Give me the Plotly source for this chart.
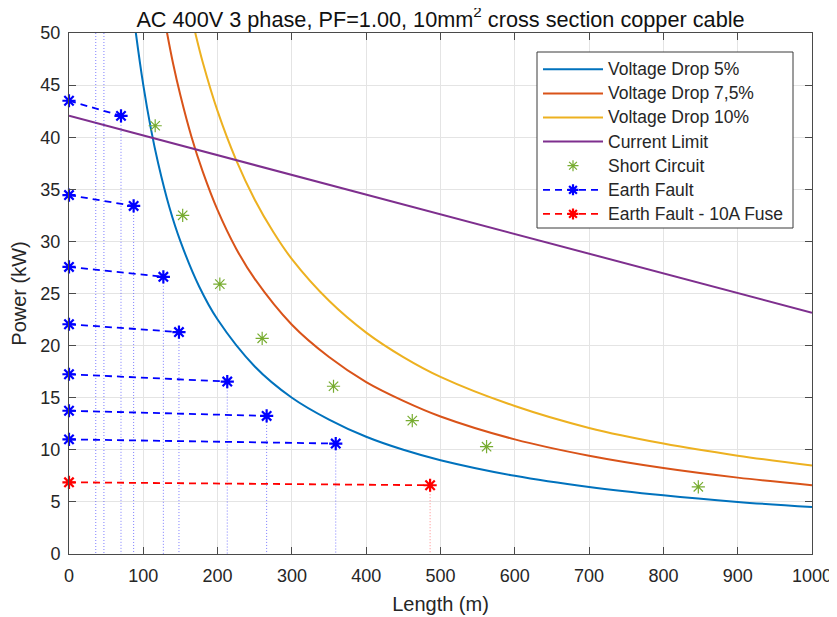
import plotly.graph_objects as go

# ---------------- data ----------------
L_vd5 = [85, 90, 100, 110, 120, 135, 150, 175, 200, 250, 300, 350, 400, 450, 500, 600, 700, 800, 900, 1000]
P_vd5 = [52.9, 50.0, 45.0, 40.9, 37.5, 33.3, 30.0, 25.7, 22.5, 18.0, 15.0, 12.9, 11.25, 10.0, 9.0, 7.5, 6.43, 5.63, 5.0, 4.5]

L_vd75 = [125, 132, 140, 150, 165, 180, 200, 225, 250, 300, 350, 400, 450, 500, 600, 700, 800, 900, 1000]
P_vd75 = [52.8, 50.0, 47.1, 44.0, 40.0, 36.7, 33.0, 29.3, 26.4, 22.0, 18.9, 16.5, 14.7, 13.2, 11.0, 9.43, 8.25, 7.33, 6.6]

L_vd10 = [160, 170, 180, 200, 225, 250, 275, 300, 350, 400, 450, 500, 600, 700, 800, 900, 1000]
P_vd10 = [53.1, 50.0, 47.2, 42.5, 37.8, 34.0, 30.9, 28.3, 24.3, 21.25, 18.9, 17.0, 14.2, 12.1, 10.6, 9.44, 8.5]

L_cl = [0, 1000]
P_cl = [42.05, 23.15]

L_sc = [116, 153, 203, 260, 356, 462, 562, 847]
P_sc = [41.1, 32.5, 25.9, 20.7, 16.1, 12.8, 10.3, 6.45]

ef_P_start = [43.5, 34.45, 27.55, 22.05, 17.25, 13.75, 11.0]
ef_L_end = [70, 87, 127, 148, 213, 266, 359]
ef_P_end = [42.05, 33.4, 26.6, 21.3, 16.55, 13.25, 10.6]

fuse_P_start = [6.88]
fuse_L_end = [486]
fuse_P_end = [6.6]

extra_marker_L = [36, 47]   # dotted guides whose fault points lie above the axis top

x_ticks = list(range(0, 1001, 100))
y_ticks = list(range(0, 51, 5))
X_RANGE = [0, 1000]
Y_RANGE = [0, 50]

series_names = ["Voltage Drop 5%", "Voltage Drop 7,5%", "Voltage Drop 10%", "Current Limit",
                "Short Circuit", "Earth Fault", "Earth Fault - 10A Fuse"]

C_BLUE = "#0072BD"
C_RED = "#D95319"
C_YEL = "#EDB120"
C_PUR = "#7E2F8E"
C_GRN = "#77AC30"
TXT = "#262626"
FONT = "Liberation Sans, Arial, Helvetica, sans-serif"

fig = go.Figure()

for L, P, c, n in [(L_vd5, P_vd5, C_BLUE, series_names[0]),
                   (L_vd75, P_vd75, C_RED, series_names[1]),
                   (L_vd10, P_vd10, C_YEL, series_names[2]),
                   (L_cl, P_cl, C_PUR, series_names[3])]:
    fig.add_trace(go.Scatter(x=L, y=P, mode="lines", name=n,
                             line=dict(color=c, width=2, shape="spline", smoothing=1.0),
                             showlegend=False))

# dotted guide lines
gx, gy = [], []
for L in extra_marker_L:
    gx += [L, L, None]
    gy += [Y_RANGE[1], 0, None]
for L, P in zip(ef_L_end, ef_P_end):
    gx += [L, L, None]
    gy += [P, 0, None]
fig.add_trace(go.Scatter(x=gx, y=gy, mode="lines", showlegend=False,
                         line=dict(color="rgba(40,40,255,0.6)", width=1, dash="1px,2px")))
fx_, fy_ = [], []
for L, P in zip(fuse_L_end, fuse_P_end):
    fx_ += [L, L, None]
    fy_ += [P, 0, None]
fig.add_trace(go.Scatter(x=fx_, y=fy_, mode="lines", showlegend=False,
                         line=dict(color="rgba(255,60,60,0.6)", width=1, dash="1px,2px")))

# short circuit points
fig.add_trace(go.Scatter(x=L_sc, y=P_sc, mode="markers", name=series_names[4], showlegend=False,
                         marker=dict(symbol="asterisk-open", size=11, color=C_GRN,
                                     line=dict(color=C_GRN, width=1.2))))

# earth fault lines
def pairs(P0, L1, P1):
    xs, ys = [], []
    for a, b, c in zip(P0, L1, P1):
        xs += [0, b, None]
        ys += [a, c, None]
    return xs, ys

ex, ey = pairs(ef_P_start, ef_L_end, ef_P_end)
fig.add_trace(go.Scatter(x=ex, y=ey, mode="lines+markers", name=series_names[5], showlegend=False,
                         cliponaxis=False,
                         line=dict(color="#0000FF", width=1.8, dash="7px,5px"),
                         marker=dict(symbol="asterisk-open", size=11, color="#0000FF",
                                     line=dict(color="#0000FF", width=2.2))))
rx, ry = pairs(fuse_P_start, fuse_L_end, fuse_P_end)
fig.add_trace(go.Scatter(x=rx, y=ry, mode="lines+markers", name=series_names[6], showlegend=False,
                         cliponaxis=False,
                         line=dict(color="#FF0000", width=1.8, dash="7px,5px"),
                         marker=dict(symbol="asterisk-open", size=11, color="#FF0000",
                                     line=dict(color="#FF0000", width=2.2))))

# ---------------- layout ----------------
OFF = 8                      # page body margin of the browser
SW, SH = 837, 617            # screenshot size
W, H = SW - OFF, SH - OFF    # figure size
# plot-area edges in screenshot pixels
PX0, PX1, PY0, PY1 = 69, 812, 33, 554
ML, MR = PX0 - OFF, SW - PX1 - OFF + OFF - OFF + (W - (PX1 - OFF)) - (SW - PX1 - OFF)
ML = PX0 - OFF
MR = W - (PX1 - OFF)
MT = PY0 - OFF
MB = H - (PY1 - OFF)
PW, PH = PX1 - PX0, PY1 - PY0

def px_x(px):
    return (px - PX0) / PW

def px_y(py):
    return (PY1 - py) / PH

axis_common = dict(showgrid=True, gridcolor="#e4e4e4", gridwidth=1, automargin=False,
                   showline=True, linecolor="#4a4a4a", linewidth=1, mirror="ticks",
                   ticks="inside", ticklen=7, tickcolor="#4a4a4a", tickwidth=1,
                   zeroline=False, tickfont=dict(size=18, color=TXT, family=FONT))

fig.update_layout(
    width=W, height=H,
    margin=dict(l=ML, r=MR, t=MT, b=MB, autoexpand=False),
    paper_bgcolor="white", plot_bgcolor="white",
    font=dict(family=FONT, color=TXT),
    title=dict(text="AC 400V 3 phase, PF=1.00, 10mm<sup>2</sup> cross section copper cable",
               x=(ML + PW / 2) / W, xanchor="center",
               y=1 - (19 - OFF) / H, yanchor="middle", yref="container", automargin=False,
               font=dict(size=21.7, color="#111111", family=FONT)),
    xaxis=dict(range=X_RANGE, tickvals=x_ticks, ticklabelstandoff=5, **axis_common,
               title=dict(text="Length (m)", font=dict(size=20, color=TXT), standoff=12)),
    yaxis=dict(range=Y_RANGE, tickvals=y_ticks, ticklabelstandoff=4, **axis_common,
               title=dict(text="Power (kW)", font=dict(size=20, color=TXT), standoff=8)),
    showlegend=False,
)

# ---------------- manual legend (MATLAB style) ----------------
shapes = []
bx0, bx1, by0, by1 = 537, 793, 52, 228
shapes.append(dict(type="rect", xref="paper", yref="paper", layer="above",
                   x0=px_x(bx0), x1=px_x(bx1), y0=px_y(by1), y1=px_y(by0),
                   fillcolor="white", line=dict(color="#3a3a3a", width=1)))
row0, dy = 69.3, 24.1
lx0, lx1, mx, tx = 543, 603, 573, 606
styles = [
    dict(color=C_BLUE, dash="solid", marker=None),
    dict(color=C_RED, dash="solid", marker=None),
    dict(color=C_YEL, dash="solid", marker=None),
    dict(color=C_PUR, dash="solid", marker=None),
    dict(color=None, dash=None, marker=(C_GRN, 1.2, 5.5)),
    dict(color="#0000FF", dash="7px,5px", marker=("#0000FF", 2.2, 5.5)),
    dict(color="#FF0000", dash="7px,5px", marker=("#FF0000", 2.2, 5.5)),
]
annotations = []
for i, (name, st) in enumerate(zip(series_names, styles)):
    py = row0 + i * dy
    if st["color"]:
        shapes.append(dict(type="line", xref="paper", yref="paper", layer="above",
                           x0=px_x(lx0), x1=px_x(lx1), y0=px_y(py), y1=px_y(py),
                           line=dict(color=st["color"], width=2 if st["dash"] == "solid" else 1.8,
                                     dash=st["dash"])))
    if st["marker"]:
        mc, mw, r = st["marker"]
        d = r * 0.7071
        path = (f"M{-r},0L{r},0M0,{-r}L0,{r}"
                f"M{-d},{-d}L{d},{d}M{-d},{d}L{d},{-d}")
        shapes.append(dict(type="path", xref="paper", yref="paper", layer="above",
                           xsizemode="pixel", ysizemode="pixel",
                           xanchor=px_x(mx), yanchor=px_y(py), path=path,
                           line=dict(color=mc, width=mw)))
    annotations.append(dict(text=name, xref="paper", yref="paper", x=px_x(tx), y=px_y(py),
                            xanchor="left", yanchor="middle", showarrow=False,
                            font=dict(size=17.5, color=TXT, family=FONT)))

fig.update_layout(shapes=shapes, annotations=annotations)

fig.write_html("out.html")
